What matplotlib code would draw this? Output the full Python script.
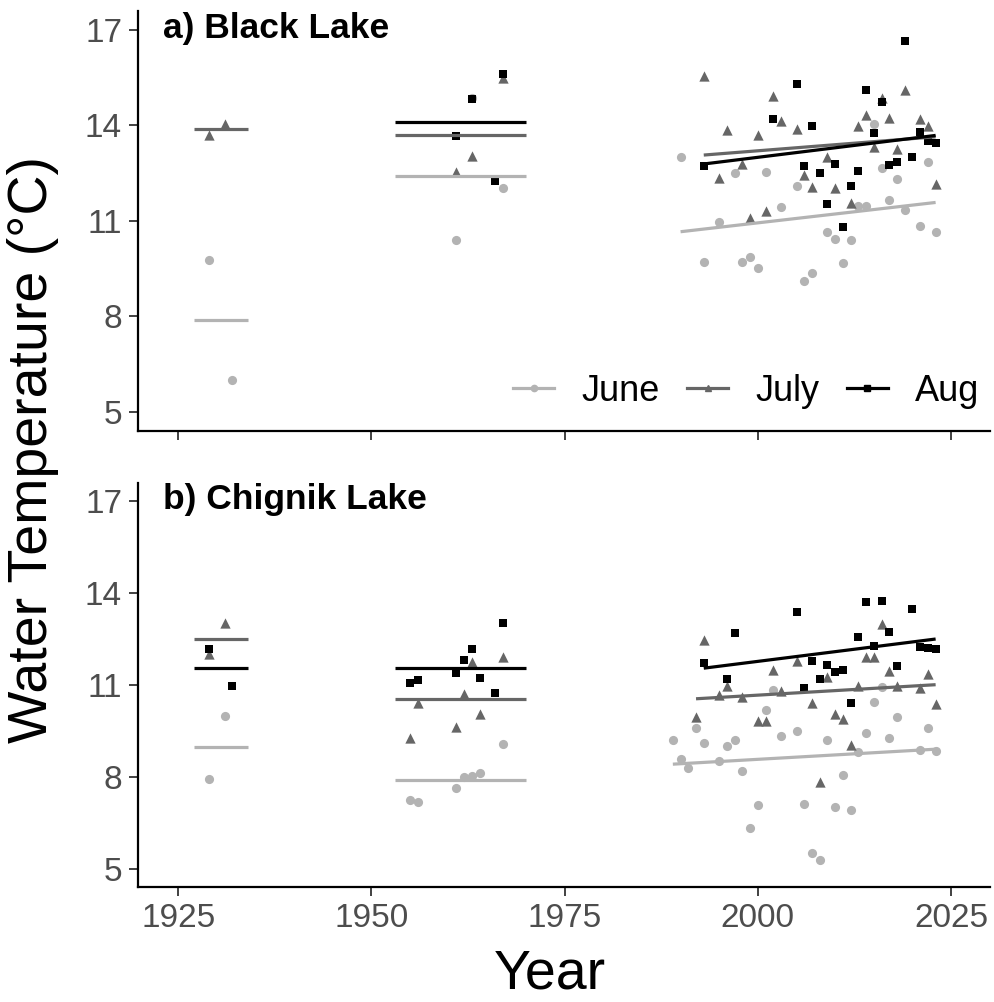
import numpy as np
import matplotlib.pyplot as plt
from matplotlib.lines import Line2D

plt.rcParams['font.family'] = ['Liberation Sans', 'DejaVu Sans']

# ---- a) Black Lake ----
black_june_yr = [1929, 1932, 1961, 1963, 1967,
                 1990, 1993, 1995, 1997, 1998, 1999, 2000, 2001, 2003, 2005, 2006, 2007,
                 2009, 2010, 2011, 2012, 2013, 2014, 2015, 2016, 2017, 2018, 2019, 2021, 2022, 2023]
black_june_t = [9.77, 6.0, 10.40, 14.85, 12.03,
                13.02, 9.72, 10.97, 12.52, 9.72, 9.86, 9.51, 12.55, 11.45, 12.10, 9.12, 9.36,
                10.65, 10.44, 9.69, 10.39, 11.46, 11.48, 14.04, 12.67, 11.65, 12.33, 11.34, 10.85, 12.86, 10.65]

black_july_yr = [1929, 1931, 1961, 1963, 1967,
                 1993, 1995, 1996, 1998, 1999, 2000, 2001, 2002, 2003, 2005, 2006, 2007,
                 2009, 2010, 2012, 2013, 2014, 2015, 2016, 2017, 2018, 2019, 2021, 2022, 2023]
black_july_t = [13.70, 14.05, 12.55, 13.04, 15.5,
                15.56, 12.36, 13.86, 12.79, 11.08, 13.70, 11.32, 14.93, 14.14, 13.89, 12.44, 12.08,
                13.02, 12.05, 11.56, 13.99, 14.33, 13.31, 14.85, 14.24, 13.26, 15.11, 14.20, 13.99, 12.15]

black_aug_yr = [1961, 1963, 1966, 1967,
                1993, 2002, 2005, 2006, 2007, 2008, 2009, 2010, 2011, 2012, 2013, 2014, 2015,
                2016, 2017, 2018, 2019, 2020, 2021, 2022, 2023]
black_aug_t = [13.67, 14.82, 12.27, 15.62,
               12.73, 14.19, 15.29, 12.72, 13.97, 12.52, 11.54, 12.78, 10.81, 12.09, 12.58, 15.11, 13.75,
               14.73, 12.76, 12.85, 16.64, 13.00, 13.79, 13.51, 13.44]

# ---- b) Chignik Lake ----
chig_june_yr = [1929, 1931, 1955, 1956, 1961, 1962, 1963, 1964, 1967,
                1989, 1990, 1991, 1992, 1993, 1995, 1996, 1997, 1998, 1999, 2000, 2001, 2002, 2003,
                2005, 2006, 2007, 2008, 2009, 2010, 2011, 2012, 2013, 2014, 2015, 2016, 2017, 2018,
                2021, 2022, 2023]
chig_june_t = [7.94, 9.99, 7.25, 7.18, 7.63, 7.99, 8.04, 8.12, 9.07,
               9.20, 8.60, 8.28, 9.59, 9.10, 8.52, 9.00, 9.20, 8.20, 6.33, 7.07, 10.19, 10.85, 9.34,
               9.50, 7.12, 5.53, 5.29, 9.22, 7.03, 8.06, 6.91, 8.82, 9.44, 10.46, 10.93, 9.26, 9.96,
               8.87, 9.60, 8.85]

chig_july_yr = [1929, 1931, 1955, 1956, 1961, 1962, 1963, 1964, 1967,
                1992, 1993, 1995, 1996, 1998, 2000, 2001, 2002, 2003, 2005, 2007, 2008, 2009, 2010,
                2011, 2012, 2013, 2014, 2015, 2016, 2017, 2018, 2021, 2022, 2023]
chig_july_t = [12.01, 13.01, 9.26, 10.40, 9.62, 10.70, 11.75, 10.06, 11.90,
               9.95, 12.45, 10.66, 10.97, 10.60, 9.84, 9.84, 11.49, 10.81, 11.79, 10.40, 7.83, 11.25, 10.05,
               9.89, 9.03, 10.98, 11.92, 11.90, 12.98, 11.46, 10.97, 10.89, 11.35, 10.38]

chig_aug_yr = [1929, 1932, 1955, 1956, 1961, 1962, 1963, 1964, 1966, 1967,
               1993, 1996, 1997, 2005, 2006, 2007, 2008, 2009, 2010, 2011, 2012, 2013, 2014, 2015,
               2016, 2017, 2018, 2020, 2021, 2022, 2023]
chig_aug_t = [12.16, 10.96, 11.06, 11.15, 11.40, 11.80, 12.18, 11.22, 10.73, 13.01,
              11.71, 11.19, 12.71, 13.37, 10.91, 11.79, 11.20, 11.64, 11.41, 11.49, 10.40, 12.58, 13.70, 12.27,
              13.73, 12.74, 11.61, 13.47, 12.23, 12.22, 12.17]

months = ["June", "July", "Aug"]
eras = [(1927, 1934), (1953, 1970)]  # historical survey periods (mean lines)
modern_from = 1980                   # linear trend for the modern record

colors = {"June": "#B3B3B3", "July": "#666666", "Aug": "#000000"}
markers = {"June": "o", "July": "^", "Aug": "s"}
msize = {"June": 6.6, "July": 7.4, "Aug": 6.0}

lakes = [
    ("a) Black Lake", {"June": (black_june_yr, black_june_t),
                       "July": (black_july_yr, black_july_t),
                       "Aug": (black_aug_yr, black_aug_t)}),
    ("b) Chignik Lake", {"June": (chig_june_yr, chig_june_t),
                         "July": (chig_july_yr, chig_july_t),
                         "Aug": (chig_aug_yr, chig_aug_t)}),
]


def draw(ax, data):
    for m in months:
        yr, t = data[m]
        ax.scatter(yr, t, s=msize[m] ** 2, marker=markers[m], color=colors[m],
                   linewidths=0, zorder=2)
    for m in months:
        yr = np.array(data[m][0])
        t = np.array(data[m][1])
        for lo, hi in eras:
            sel = (yr >= lo) & (yr <= hi)
            if sel.any():
                ax.plot([lo, hi], [t[sel].mean()] * 2, color=colors[m], lw=2.3,
                        solid_capstyle="butt", zorder=3)
        sel = yr > modern_from
        k, b = np.polyfit(yr[sel], t[sel], 1)
        xs = np.array([yr[sel].min(), yr[sel].max()])
        ax.plot(xs, k * xs + b, color=colors[m], lw=2.3, solid_capstyle="butt", zorder=3)


fig = plt.figure(figsize=(9.95, 10.02), dpi=100)
ax_a = fig.add_axes([0.1387, 0.5699, 0.8560, 0.4192])
ax_b = fig.add_axes([0.1387, 0.1144, 0.8560, 0.4040])

for ax, (title, data) in zip([ax_a, ax_b], lakes):
    draw(ax, data)
    ax.set_xlim(1919.8, 2030)
    ax.set_ylim(4.4, 17.6)
    ax.set_xticks([1925, 1950, 1975, 2000, 2025])
    ax.set_yticks([5, 8, 11, 14, 17])
    for side in ["top", "right"]:
        ax.spines[side].set_visible(False)
    for side in ["left", "bottom"]:
        ax.spines[side].set_linewidth(1.6)
        ax.spines[side].set_color("black")
    ax.tick_params(length=6.5, width=1.3, color="#333333", labelcolor="#4D4D4D",
                   labelsize=24, pad=5)
    ax.text(0.029, 0.958, title, transform=ax.transAxes, fontsize=25.5,
            fontweight="bold", ha="left", va="center")

ax_a.tick_params(axis="x", labelbottom=False)

handles = [Line2D([], [], color=colors[m], marker=markers[m], markersize=4.5, lw=2.3)
           for m in months]
ax_a.legend(handles, months, loc="center right", bbox_to_anchor=(1.005, 0.095),
            ncol=3, frameon=False, fontsize=26, handlelength=1.15,
            handletextpad=0.75, columnspacing=0.75, borderaxespad=0)

fig.text(0.033, 0.551, "Water Temperature (°C)", rotation=90, ha="center",
         va="center", fontsize=40)
fig.text(0.553, 0.027, "Year", ha="center", va="center", fontsize=40)

fig.savefig("out.png", dpi=100)
